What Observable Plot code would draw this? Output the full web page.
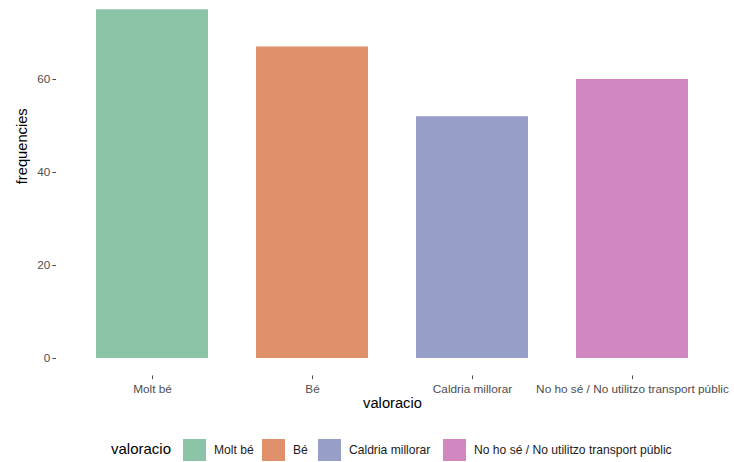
<!DOCTYPE html>
<html>
<head>
<meta charset="utf-8">
<script src="https://cdn.jsdelivr.net/npm/d3@7"></script>
<script src="https://cdn.jsdelivr.net/npm/@observablehq/plot@0.6"></script>
<style>
  html, body { margin: 0; padding: 0; background: #ffffff; }
  body { width: 734px; height: 462px; overflow: hidden; font-family: "Liberation Sans", Arial, sans-serif; }
  #chart svg { display: block; }
  #legend { position: relative; height: 37px; }
  #legend .title { position: absolute; left: 111px; top: 15px; font-size: 15px; color: #000; line-height: 18px; }
  #legend .item { position: absolute; top: 14px; height: 22px; display: flex; align-items: center; }
  #legend .sw { width: 23px; height: 22px; display: inline-block; }
  #legend .lab { margin-left: 8px; font-size: 12.1px; color: #1a1a1a; }
</style>
</head>
<body>
<div id="chart"></div>
<div id="legend"></div>
<script>
const categories = ["Molt bé", "Bé", "Caldria millorar", "No ho sé / No utilitzo transport públic"];
const frequencies = [75, 67, 52, 60];
const palette = ["#8AC3A6", "#E0916B", "#979FC9", "#D188C0"];
const yTicks = [0, 20, 40, 60];
const xTitle = "valoracio";
const yTitle = "frequencies";

const data = categories.map((c, i) => ({valoracio: c, frequencies: frequencies[i]}));

const tickColor = "#4d4d4d";
const chart = Plot.plot({
  width: 734,
  height: 425,
  marginLeft: 56,
  marginRight: 6,
  marginTop: 0,
  marginBottom: 49.56,
  style: {fontFamily: "'Liberation Sans', Arial, sans-serif", fontSize: "11.7px", background: "#ffffff"},
  x: {domain: categories, paddingInner: 0.3, paddingOuter: 0.25, label: null},
  y: {domain: [-3.75, 76.99], label: null},
  color: {domain: categories, range: palette},
  marks: [
    Plot.barY(data, {x: "valoracio", y: "frequencies", fill: "valoracio"}),
    Plot.axisY({ticks: yTicks, tickSize: 3.7, tickPadding: 2.5, color: tickColor, label: null, fontSize: 11.7}),
    Plot.axisX({tickSize: 3.7, tickPadding: 4.5, color: tickColor, label: null, fontSize: 11.8}),
    Plot.text([yTitle], {frameAnchor: "left", dx: -34, dy: -4, rotate: -90, fontSize: 14.7, fill: "#000"}),
    Plot.text([xTitle], {frameAnchor: "bottom", dy: 32, fontSize: 14.7, fill: "#000"})
  ]
});
document.getElementById("chart").appendChild(chart);

// legend built from the same arrays
const legend = document.getElementById("legend");
const t = document.createElement("div");
t.className = "title";
t.textContent = xTitle;
legend.appendChild(t);
const starts = [183, 262, 318, 443];
categories.forEach((c, i) => {
  const it = document.createElement("div");
  it.className = "item";
  it.style.left = starts[i] + "px";
  const sw = document.createElement("span");
  sw.className = "sw";
  sw.style.background = palette[i];
  const lab = document.createElement("span");
  lab.className = "lab";
  lab.textContent = c;
  it.appendChild(sw);
  it.appendChild(lab);
  legend.appendChild(it);
});
</script>
</body>
</html>
